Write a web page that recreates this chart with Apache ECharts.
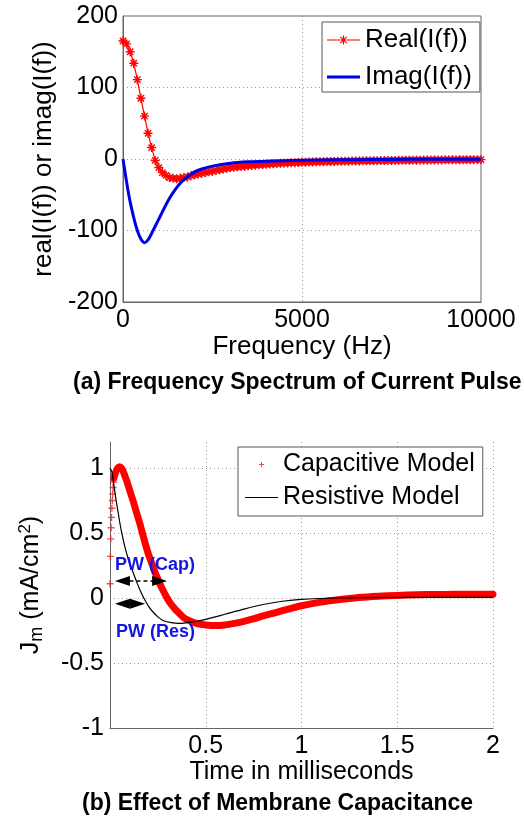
<!DOCTYPE html>
<html>
<head>
<meta charset="utf-8">
<script src="https://cdn.jsdelivr.net/npm/echarts@6.0.0/dist/echarts.min.js"></script>
<style>
html,body{margin:0;padding:0;background:#fff;}
#chart{width:524px;height:818px;}
</style>
</head>
<body>
<div id="chart"></div>
<script>
// ---------- Panel (a): frequency spectrum ----------
const freqHz = [
  0,100,200,300,400,500,600,700,800,900,
  1000,1100,1200,1300,1400,1500,1600,1700,1800,1900,
  2000,2100,2200,2300,2400,2500,2600,2700,2800,2900,
  3000,3100,3200,3300,3400,3500,3600,3700,3800,3900,
  4000,4100,4200,4300,4400,4500,4600,4700,4800,4900,
  5000,5100,5200,5300,5400,5500,5600,5700,5800,5900,
  6000,6100,6200,6300,6400,6500,6600,6700,6800,6900,
  7000,7100,7200,7300,7400,7500,7600,7700,7800,7900,
  8000,8100,8200,8300,8400,8500,8600,8700,8800,8900,
  9000,9100,9200,9300,9400,9500,9600,9700,9800,9900,
  10000
];
const realI = [
  165,161,150,134,111,85,60,36,16,-2,
  -12,-19,-23,-26,-27,-27.5,-27,-26,-25,-23.5,
  -22,-21,-20,-19,-18,-17,-16,-15,-14,-13,
  -12,-11.5,-11,-10.5,-10,-9.5,-9,-8.6,-8.2,-7.8,
  -7.4,-7,-6.7,-6.4,-6.1,-5.8,-5.5,-5.3,-5.1,-4.9,
  -4.7,-4.5,-4.3,-4.2,-4,-3.9,-3.7,-3.6,-3.5,-3.4,
  -3.3,-3.2,-3.1,-3,-2.9,-2.8,-2.7,-2.6,-2.5,-2.5,
  -2.4,-2.3,-2.2,-2.2,-2.1,-2,-2,-1.9,-1.8,-1.8,
  -1.7,-1.7,-1.6,-1.6,-1.5,-1.5,-1.4,-1.4,-1.3,-1.3,
  -1.2,-1.2,-1.2,-1.1,-1.1,-1,-1,-1,-0.9,-0.9,
  -0.9
];
const imagFreq = [0,50,100,150,200,300,400,500,600,700,800,900,1000,1100,1200,1300,1400,1500,1600,1700,1800,2000,2200,2500,3000,3500,4000,5000,6000,7000,8000,9000,10000];
const imagI   = [0,-16,-32,-47,-60,-82,-100,-112,-117,-113,-104,-94,-84,-74,-64,-55,-47,-40,-34,-29,-25,-18,-14,-10,-6,-4,-3,-1.8,-1.2,-0.8,-0.5,-0.3,-0.2];
const xTicksA = [0, 5000, 10000];
const yTicksA = [-200, -100, 0, 100, 200];

// ---------- Panel (b): membrane capacitance ----------
const capStartT = [0,0.002,0.004,0.006,0.008,0.010,0.012,0.014,0.016,0.018];
const capStartJ = [0.11,0.32,0.455,0.54,0.62,0.69,0.75,0.80,0.85,0.89];
const capT = [0.02,0.03,0.04,0.05,0.06,0.07,0.08,0.09,0.10,
  0.12,0.14,0.16,0.18,0.20,0.22,0.24,0.26,0.28,0.30,0.32,0.34,0.36,0.38,0.40,
  0.45,0.50,0.55,0.60,0.65,0.70,0.75,0.80,0.85,0.90,0.95,1.0,
  1.1,1.2,1.3,1.4,1.5,1.6,1.7,1.8,1.9,2.0];
const capJ = [0.92,0.97,1.0,1.01,1.0,0.97,0.93,0.89,0.84,
  0.75,0.65,0.55,0.44,0.34,0.26,0.18,0.11,0.05,-0.005,-0.05,-0.085,-0.115,-0.145,-0.165,
  -0.195,-0.207,-0.212,-0.207,-0.195,-0.18,-0.16,-0.138,-0.118,-0.098,-0.078,-0.06,
  -0.032,-0.012,0.003,0.013,0.02,0.025,0.027,0.028,0.028,0.028];
const resT = [0,0.01,0.02,0.03,0.04,0.05,0.06,0.08,0.10,0.12,0.14,0.16,0.18,0.20,0.22,0.25,0.28,0.32,0.36,0.40,0.45,0.50,0.55,0.60,0.70,0.80,0.90,1.0,1.2,1.5,2.0];
const resJ = [1.0,0.97,0.87,0.77,0.68,0.59,0.51,0.38,0.28,0.20,0.12,0.05,-0.01,-0.06,-0.10,-0.145,-0.175,-0.19,-0.195,-0.19,-0.18,-0.165,-0.145,-0.125,-0.085,-0.05,-0.025,-0.01,0,0.005,0.005];
// pulse-width arrows (arrowhead centres) and their labels, in data units
const pwCap = {t0: 0.065, t1: 0.259, j: 0.13, label: 'PW (Cap)', lt: 0.235, lj: 0.254};
const pwRes = {t0: 0.065, t1: 0.144, j: -0.045, label: 'PW (Res)', lt: 0.238, lj: -0.26};

const zip = (a, b) => a.map((v, i) => [v, b[i]]);
const FONT = '"Liberation Sans", Arial, Helvetica, sans-serif';
const plain = v => String(v);

const starPath = 'path://M0,4.2L10,4.2L10,5.8L0,5.8Z M4.2,0L5.8,0L5.8,10L4.2,10Z M0.93,2.07L2.07,0.93L9.07,7.93L7.93,9.07Z M7.93,0.93L9.07,2.07L2.07,9.07L0.93,7.93Z';
const plusPath = 'path://M4,0L6,0L6,10L4,10Z M0,4L10,4L10,6L0,6Z';
const iconReal = 'path://M0,0M33,14M0,6.4L33,6.4L33,7.6L0,7.6Z M15.9,2.5L17.1,2.5L17.1,11.5L15.9,11.5Z M12.88,4.22L13.72,3.38L20.12,9.78L19.28,10.62Z M19.28,3.38L20.12,4.22L13.72,10.62L12.88,9.78Z';
const iconImag = 'path://M0,0M33,14M0,5.5L33,5.5L33,8.5L0,8.5Z';
const iconRes = 'path://M0,0M33,14M0,6.5L33,6.5L33,7.5L0,7.5Z';
const iconCap = 'path://M0,0M33,14M16,4.5L17,4.5L17,9.5L16,9.5Z M14,6.5L19,6.5L19,7.5L14,7.5Z';

const axisCol = '#666';
const gridLine = {show: true, showMinLine: false, showMaxLine: false, lineStyle: {color: '#999', type: [1, 3], width: 1}};

const chart = echarts.init(document.getElementById('chart'), null, {renderer: 'canvas'});
chart.setOption({
  animation: false,
  backgroundColor: '#fff',
  textStyle: {fontFamily: FONT, color: '#000'},
  title: [
    {text: '(a) Frequency Spectrum of Current Pulse', left: 73, top: 371, padding: 0,
     textStyle: {fontSize: 23, fontWeight: 'bold', color: '#000', fontFamily: FONT}},
    {text: '(b) Effect of Membrane Capacitance', left: 82, top: 792, padding: 0,
     textStyle: {fontSize: 23, fontWeight: 'bold', color: '#000', fontFamily: FONT}}
  ],
  grid: [
    {left: 123, top: 16, width: 358, height: 286, show: true, borderColor: axisCol, borderWidth: 1, backgroundColor: '#fff'},
    {left: 110, top: 442, width: 383, height: 286}
  ],
  legend: [
    {data: [{name: 'Real(I(f))', icon: iconReal}, {name: 'Imag(I(f))', icon: iconImag}],
     orient: 'vertical', left: 322, top: 22, padding: [5, 8, 2, 5], itemGap: 11,
     itemWidth: 33, itemHeight: 14, borderColor: '#555', borderWidth: 1, backgroundColor: '#fff',
     selectedMode: false, textStyle: {fontSize: 26, color: '#000', fontFamily: FONT}},
    {data: [{name: 'Capacitive Model', icon: iconCap}, {name: 'Resistive Model', icon: iconRes}],
     orient: 'vertical', left: 238, top: 447, padding: [5, 8, 6, 7], itemGap: 8,
     itemWidth: 33, itemHeight: 14, borderColor: '#555', borderWidth: 1, backgroundColor: '#fff',
     selectedMode: false, textStyle: {fontSize: 25, color: '#000', fontFamily: FONT}}
  ],
  xAxis: [
    {type: 'value', gridIndex: 0, min: xTicksA[0], max: xTicksA[xTicksA.length - 1], interval: xTicksA[1] - xTicksA[0],
     axisLine: {onZero: false, lineStyle: {color: axisCol}}, axisTick: {show: false},
     axisLabel: {fontSize: 25, color: '#000', margin: 6, fontFamily: FONT, formatter: plain},
     splitLine: gridLine,
     name: 'Frequency (Hz)', nameLocation: 'middle', nameGap: 31,
     nameTextStyle: {fontSize: 26, color: '#000', fontFamily: FONT}},
    {type: 'value', gridIndex: 1, min: 0, max: 2, interval: 0.5,
     axisLine: {onZero: false, lineStyle: {color: axisCol}}, axisTick: {show: false},
     axisLabel: {fontSize: 25, color: '#000', margin: 6, showMinLabel: false, fontFamily: FONT, formatter: plain},
     splitLine: {show: true, showMinLine: false, showMaxLine: true, lineStyle: {color: '#999', type: [1, 3], width: 1}},
     name: 'Time in milliseconds', nameLocation: 'middle', nameGap: 30,
     nameTextStyle: {fontSize: 25, color: '#000', fontFamily: FONT}}
  ],
  yAxis: [
    {type: 'value', gridIndex: 0, min: yTicksA[0], max: yTicksA[yTicksA.length - 1], interval: yTicksA[1] - yTicksA[0],
     axisLine: {show: true, onZero: false, lineStyle: {color: axisCol}}, axisTick: {show: false},
     axisLabel: {fontSize: 25, color: '#000', margin: 5, fontFamily: FONT, formatter: plain},
     splitLine: gridLine,
     name: 'real(I(f)) or imag(I(f))', nameLocation: 'middle', nameGap: 59,
     nameTextStyle: {fontSize: 26, color: '#000', fontFamily: FONT}},
    {type: 'value', gridIndex: 1, min: -1, max: 1.2, interval: 0.5,
     axisLine: {show: true, onZero: false, lineStyle: {color: axisCol}}, axisTick: {show: false},
     axisLabel: {fontSize: 25, color: '#000', margin: 6, showMaxLabel: false, fontFamily: FONT, formatter: plain},
     splitLine: gridLine,
     name: '{a|J}{b|m}{a| (mA/cm}{c|2}{a|)}', nameLocation: 'middle', nameGap: 64,
     nameTextStyle: {fontSize: 25, color: '#000', fontFamily: FONT,
       rich: {
         a: {fontSize: 25, fontFamily: FONT, color: '#000'},
         b: {fontSize: 18, fontFamily: FONT, color: '#000', padding: [12, 0, 0, 0]},
         c: {fontSize: 17, fontFamily: FONT, color: '#000', padding: [0, 0, 12, 0]}
       }}}
  ],
  series: [
    {name: 'Real(I(f))', type: 'line', xAxisIndex: 0, yAxisIndex: 0, data: zip(freqHz, realI),
     color: '#ff0000', lineStyle: {width: 1.2, color: '#ff0000'},
     symbol: starPath, symbolSize: 9, showSymbol: true, showAllSymbol: true, clip: false, z: 3,
     itemStyle: {color: '#ff0000'}},
    {name: 'Imag(I(f))', type: 'line', xAxisIndex: 0, yAxisIndex: 0, data: zip(imagFreq, imagI),
     color: '#0000e6', lineStyle: {width: 3, color: '#0000e6'}, symbol: 'none', smooth: 0.3, z: 4},
    {name: 'Capacitive Model', type: 'scatter', xAxisIndex: 1, yAxisIndex: 1, data: zip(capStartT, capStartJ),
     symbol: plusPath, symbolSize: 7, itemStyle: {color: '#ee2222'}, color: '#ee2222', clip: false, z: 3},
    {name: 'Capacitive Model', type: 'line', xAxisIndex: 1, yAxisIndex: 1, data: zip(capT, capJ),
     color: '#ff0000', lineStyle: {width: 7, color: '#ff0000', join: 'round', cap: 'round'},
     symbol: 'none', smooth: 0.3, z: 3},
    {name: 'Resistive Model', type: 'line', xAxisIndex: 1, yAxisIndex: 1, data: zip(resT, resJ),
     color: '#000', lineStyle: {width: 1.2, color: '#000'}, symbol: 'none', smooth: 0.3, z: 4,
     markLine: {
       silent: true, symbol: ['triangle', 'triangle'], symbolSize: [10, 15], z: 6,
       label: {show: false},
       itemStyle: {color: '#000'},
       lineStyle: {color: '#000', width: 1.5, type: [4, 3]},
       data: [
         [{coord: [pwCap.t0, pwCap.j]}, {coord: [pwCap.t1, pwCap.j]}],
         [{coord: [pwRes.t0, pwRes.j], lineStyle: {type: 'solid'}}, {coord: [pwRes.t1, pwRes.j]}]
       ]
     },
     markPoint: {
       silent: true, symbol: 'circle', symbolSize: 0, z: 6,
       label: {show: true, position: 'inside', formatter: '{b}', color: '#1515e0', fontWeight: 'bold', fontSize: 18, fontFamily: FONT},
       data: [
         {name: pwCap.label, coord: [pwCap.lt, pwCap.lj]},
         {name: pwRes.label, coord: [pwRes.lt, pwRes.lj]}
       ]
     }}
  ]
});
</script>
</body>
</html>
